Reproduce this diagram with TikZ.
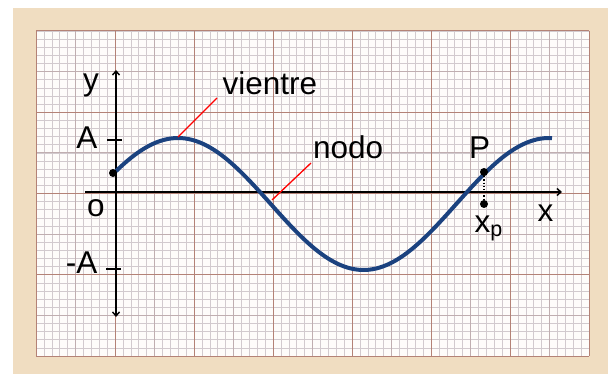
\documentclass[tikz,border=0pt]{standalone}
\usepackage{fontspec}
\setmainfont{Liberation Sans}
\usetikzlibrary{arrows.meta}
\definecolor{beige}{HTML}{F0DDC1}
\definecolor{paper}{HTML}{FEFCFA}
\definecolor{gminor}{HTML}{D2CACE}
\definecolor{gmid}{HTML}{C0AEB0}
\definecolor{gmajor}{HTML}{B48276}
\definecolor{wavec}{HTML}{1B427F}
\begin{document}
\begin{tikzpicture}[x=1pt,y=-1pt,
  lbl/.style={font=\fontsize{31.5}{31.5}\selectfont, inner sep=0pt, text=black},
  dotnode/.style={circle, fill=black, minimum size=8pt, inner sep=0pt},
  axisline/.style={black, line width=1.4pt},
  tickline/.style={black, line width=2.6pt},
  leader/.style={red, line width=1.3pt},
  wavestyle/.style={wavec, line width=4pt, line join=round},
  minorline/.style={gminor, line width=0.55pt},
  midline/.style={gmid, line width=0.75pt},
  majorline/.style={gmajor, line width=1pt}]
\useasboundingbox (0,0) rectangle (608,374);
\fill[beige] (13,8) rectangle (608,374);
\fill[paper] (36,31) rectangle (589,356);
% grid
\foreach \i in {0,...,70} \draw[minorline] ({36+7.9*\i},31) -- ({36+7.9*\i},356);
\foreach \j in {0,...,40} \draw[minorline] (36,{31+8.125*\j}) -- (589,{31+8.125*\j});
\foreach \i in {0,...,6} \draw[midline] ({75.5+79*\i},31) -- ({75.5+79*\i},356);
\foreach \j in {0,...,3} \draw[midline] (36,{71.625+81.25*\j}) -- (589,{71.625+81.25*\j});
\foreach \i in {0,...,7} \draw[majorline] ({36+79*\i},31) -- ({36+79*\i},356);
\foreach \j in {0,...,4} \draw[majorline] (36,{31+81.25*\j}) -- (589,{31+81.25*\j});
% axes
\coordinate (ybot) at (116,317);
\coordinate (ytop) at (116,70);
\coordinate (xleft) at (85,192);
\coordinate (xright) at (562,192);
\draw[axisline, {Straight Barb[length=4pt,width=7pt]}-{Straight Barb[length=4pt,width=7pt]}] (ybot) -- (ytop);
\draw[axisline, -{Straight Barb[length=4pt,width=7pt]}] (xleft) -- (xright);
% ticks
\coordinate (ta1) at (107,140);
\coordinate (ta2) at (122,140);
\coordinate (tb1) at (106,269);
\coordinate (tb2) at (121,269);
\draw[tickline] (ta1) -- (ta2);
\draw[tickline] (tb1) -- (tb2);
% wave
\draw[wavestyle] plot[domain=116:552, samples=120, smooth] (\x, {204-66*cos(0.97035*(\x-178))});
% leaders
\coordinate (vpeak) at (178,137);
\coordinate (vend) at (217,98);
\coordinate (npt) at (272,200);
\coordinate (nend) at (311,163);
\draw[leader] (vpeak) -- (vend);
\draw[leader] (npt) -- (nend);
% labels
\node[lbl, anchor=base] (ylab) at (91,91) {y};
\node[lbl, anchor=base] (alab) at (87,149) {A};
\node[lbl, anchor=base east] (malab) at (97.5,273) {-A};
\node[lbl, anchor=base] (olab) at (96,217) {o};
\node[lbl, anchor=base] (xlab) at (545.5,222) {x};
\node[lbl, anchor=base] (plab) at (479.5,159) {P};
\node[lbl, anchor=base west] (vlab) at (222.5,95) {vientre};
\node[lbl, anchor=base west] (nlab) at (313,159) {nodo};
\node[lbl, anchor=base west] (xplab) at (474.5,233) {x\raisebox{-4pt}{\fontsize{21.5}{21.5}\selectfont p}};
% dots
\node[dotnode] (d0) at (113,173) {};
\node[dotnode] (pdot) at (484,172) {};
\node[dotnode] (xpdot) at (484,204) {};
\draw[black, line width=1.2pt, dotted] (pdot) -- (xpdot);
\end{tikzpicture}
\end{document}
